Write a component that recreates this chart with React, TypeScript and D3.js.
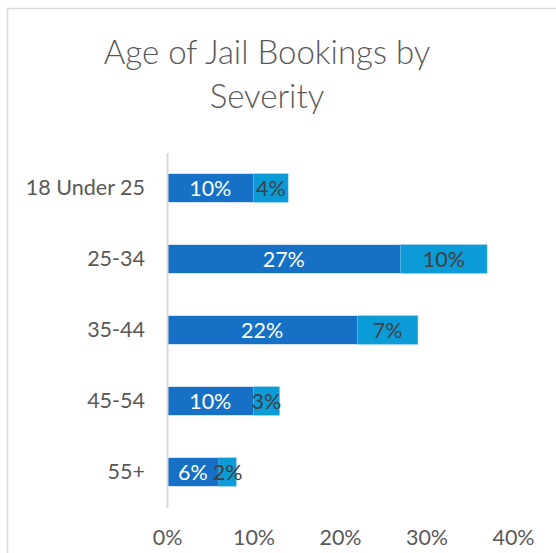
import React, { useRef, useEffect } from "react";
import * as d3 from "d3";

// chart data
const categories = ["18 Under 25", "25-34", "35-44", "45-54", "55+"];
const seriesA = [10, 27, 22, 10, 6];   // darker segment (%)
const seriesB = [4, 10, 7, 3, 2];      // lighter segment (%)
const xTicks = [0, 10, 20, 30, 40];
const titleLines = ["Age of Jail Bookings by", "Severity"];

const W = 556;
const H = 553;
const FONT = "Lato, 'Open Sans', sans-serif";

export default function App() {
    const ref = useRef<SVGSVGElement | null>(null);

    useEffect(() => {
        const svg = d3.select(ref.current);
        svg.selectAll("*").remove();

        // background + border of the chart area
        svg.append("rect").attr("width", W).attr("height", H).attr("fill", "#fff");
        svg.append("rect")
            .attr("x", 7.5).attr("y", 8.5)
            .attr("width", 600).attr("height", 600)
            .attr("fill", "none").attr("stroke", "#d9d9d9").attr("stroke-width", 1.5);

        // title
        svg.append("g").selectAll("text")
            .data(titleLines)
            .join("text")
            .attr("x", 267)
            .attr("y", (d, i) => 64 + i * 44)
            .attr("text-anchor", "middle")
            .attr("font-family", FONT)
            .attr("font-weight", 300)
            .attr("font-size", 33)
            .attr("fill", "#595959")
            .text(d => d);

        const x = d3.scaleLinear().domain([0, 40]).range([167, 513]);
        const y = d3.scaleBand<string>()
            .domain(categories)
            .range([152.5, 507.5])
            .paddingInner(0.6)
            .paddingOuter(0.3);

        const rows = categories.map((c, i) => ({ c, a: seriesA[i], b: seriesB[i] }));

        // dark segment
        svg.append("g").selectAll("rect")
            .data(rows)
            .join("rect")
            .attr("x", x(0))
            .attr("y", d => y(d.c)!)
            .attr("width", d => x(d.a) - x(0))
            .attr("height", y.bandwidth())
            .attr("fill", "#1570c6");

        // light segment
        svg.append("g").selectAll("rect")
            .data(rows)
            .join("rect")
            .attr("x", d => x(d.a))
            .attr("y", d => y(d.c)!)
            .attr("width", d => x(d.a + d.b) - x(d.a))
            .attr("height", y.bandwidth())
            .attr("fill", "#0b9bd7")
            .attr("stroke", "#5cb8e6")
            .attr("stroke-width", 0.5);

        // value labels
        svg.append("g").selectAll("text")
            .data(rows)
            .join("text")
            .attr("x", d => (x(0) + x(d.a)) / 2)
            .attr("y", d => y(d.c)! + y.bandwidth() / 2 + 7.5)
            .attr("text-anchor", "middle")
            .attr("font-family", FONT)
            .attr("font-size", 21.5)
            .attr("fill", "#fff")
            .text(d => d.a + "%");

        svg.append("g").selectAll("text")
            .data(rows)
            .join("text")
            .attr("x", d => (x(d.a) + x(d.a + d.b)) / 2)
            .attr("y", d => y(d.c)! + y.bandwidth() / 2 + 7.5)
            .attr("text-anchor", "middle")
            .attr("font-family", FONT)
            .attr("font-size", 21.5)
            .attr("fill", "#404040")
            .text(d => d.b + "%");

        // category axis
        const yAxis = svg.append("g")
            .attr("transform", `translate(${x(0)},0)`)
            .call(d3.axisLeft(y).tickSize(0).tickPadding(22));
        yAxis.select(".domain").attr("stroke", "#d9d9d9").attr("stroke-width", 2);
        yAxis.selectAll("text")
            .attr("font-family", FONT)
            .attr("font-size", 21.5)
            .attr("fill", "#595959");

        // value axis labels
        const xAxis = svg.append("g")
            .attr("transform", `translate(0,${522})`)
            .call(d3.axisBottom(x).tickValues(xTicks).tickSize(0).tickPadding(8).tickFormat(d => d + "%"));
        xAxis.select(".domain").remove();
        xAxis.selectAll("text")
            .attr("font-family", FONT)
            .attr("font-size", 21.5)
            .attr("fill", "#595959");
    }, []);

    return (
        <div style={{ position: "absolute", left: 0, top: 0 }}>
            <svg ref={ref} width={W} height={H} style={{ display: "block" }} />
        </div>
    );
}
